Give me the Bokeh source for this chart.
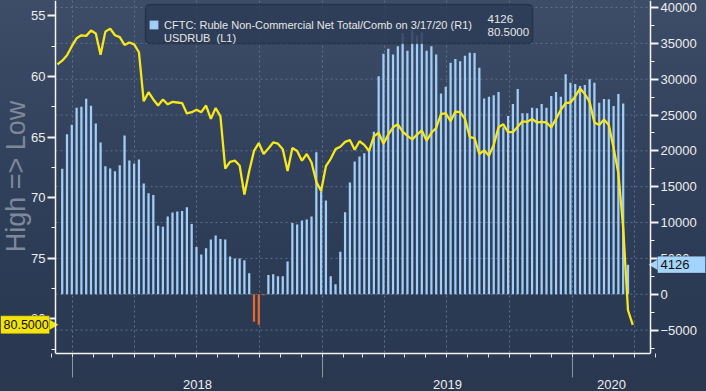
import math
import pandas as pd
from bokeh.plotting import figure
from bokeh.models import (Range1d, LinearAxis, FixedTicker,
                          Grid, Label, Legend, LegendItem, ColumnDataSource, InlineStyleSheet,
                          BoxAnnotation)
from bokeh.embed import file_html
from bokeh.resources import INLINE

# ---------------- data ----------------
cftc_start = "2017-12-17"          # weekly bars
cftc_net = [17500, 22300, 23650, 26000, 26150, 27250, 26300, 23800, 21150, 17850,
            17550, 17150, 18000, 22150, 18650, 18250, 18800, 15450, 14100, 13850,
            9550, 9400, 10850, 11400, 11550, 11600, 12150, 9800, 6600, 5550,
            6400, 7650, 8200, 7700, 7650, 5250, 5000, 5000, 4750, 2920,
            -3840, -4260, -150, 2680, 2780, 2500, 2500, 4580, 9950, 9720,
            10280, 10420, 10830, 19820, 14350, 13060, 2500, 1390, 5930, 11440,
            15600, 18500, 19200, 19650, 20100, 22650, 30400, 33550, 34250, 33450,
            34600, 36450, 33950, 36900, 36100, 36500, 33950, 34600, 33450, 28000,
            28950, 32300, 32800, 32500, 33250, 33700, 33650, 31600, 27300, 27550,
            27750, 28200, 23300, 24860, 26530, 28610, 25230, 25230, 26020, 25930,
            26530, 26010, 27640, 28200, 27550, 30700, 29490, 29310, 29030, 29170,
            30000, 29490, 26720, 27220, 27180, 26250, 27920, 26620, 4126]

usdrub_start = "2017-12-10"        # weekly line
usdrub = [59.0, 58.7, 58.25, 57.5, 56.85, 56.6, 56.65, 56.2, 56.45, 58.2,
          56.3, 56.05, 56.6, 56.75, 57.4, 57.2, 57.35, 58.0, 62.05, 61.3,
          61.9, 62.4, 61.9, 62.3, 62.1, 62.15, 62.2, 63.05, 62.95, 62.75,
          62.95, 62.4, 63.5, 62.6, 63.3, 67.6, 67.05, 66.95, 67.35, 69.75,
          67.8, 66.15, 65.5, 66.4, 65.95, 65.45, 65.55, 66.0, 67.8, 65.9,
          66.15, 66.95, 66.4, 67.1, 68.7, 69.45, 67.4, 66.8, 66.0, 65.8,
          65.4, 65.25, 66.05, 65.35, 65.65, 66.15, 64.95, 64.65, 65.55, 64.8,
          64.2, 63.95, 64.55, 64.9, 65.2, 64.8, 64.45, 65.3, 64.65, 64.25,
          63.1, 63.05, 63.7, 62.9, 62.95, 63.5, 65.0, 65.1, 66.4, 66.1,
          66.55, 65.65, 64.2, 63.95, 64.6, 64.6, 64.15, 63.7, 63.75, 63.5,
          63.8, 63.75, 63.8, 64.2, 63.5, 62.75, 62.2, 62.15, 61.65, 61.0,
          61.45, 62.1, 63.8, 64.0, 63.55, 64.0, 65.9, 68.0, 72.5, 79.3,
          80.5]

year_labels = ["2018", "2019", "2020"]
right_ticks = list(range(-5000, 40001, 5000))
left_ticks = [55, 60, 65, 70, 75, 80]
cftc_label = "CFTC: Ruble Non-Commercial Net Total/Comb on 3/17/20 (R1)"
usdrub_label = "USDRUB\u00a0 (L1)"
cftc_last = "4126"
usdrub_last = "80.5000"
left_axis_title = "High => Low"

# ---------------- layout constants ----------------
W, H = 706, 391
PL, PR = 55, 650                        # plot area left / right (canvas px)
FB = 36                                 # bottom border
FH = H - FB                             # frame height 355
px_per_day = 250.0 / 365.0
DAY = 86400000
x_plot_start = pd.Timestamp("2018-01-01") - pd.Timedelta(days=17 / px_per_day)
x_plot_end = x_plot_start + pd.Timedelta(days=(PR - PL) / px_per_day)
x_full_start = x_plot_start - pd.Timedelta(days=PL / px_per_day)
x_full_end = x_plot_end + pd.Timedelta(days=(W - PR) / px_per_day)
L_RANGE = (82.87, 53.73)
R_RANGE = (-8266, 40971)
L_PER_PX = (L_RANGE[0] - L_RANGE[1]) / FH
R_PER_PX = (R_RANGE[1] - R_RANGE[0]) / FH

def ms(t):
    return int(pd.Timestamp(t).value // 10**6)

def ms_at(px):
    return ms(x_full_start) + px / px_per_day * DAY

cftc_dates = pd.date_range(cftc_start, periods=len(cftc_net), freq="7D")
usdrub_dates = pd.date_range(usdrub_start, periods=len(usdrub), freq="7D")

BLUE = "#a0cef7"
ORANGE = "#e4682c"
YELLOW = "#f6e81c"
TAG_YELLOW = "#f3e30e"
TAG_BLUE = "#a4d3fb"
TXT = "#eeeeee"
AXC = "#f4f4f4"
GRID = "#61718c"
FONT = "Liberation Sans"

p = figure(width=W, height=H, x_axis_type=None, y_axis_type=None,
           x_range=Range1d(x_full_start, x_full_end),
           y_range=Range1d(*L_RANGE),
           output_backend="svg", toolbar_location=None,
           min_border_left=0, min_border_right=0, min_border_top=0, min_border_bottom=FB,
           background_fill_color=None, border_fill_color=None, outline_line_color=None)
p.extra_y_ranges = {"right": Range1d(*R_RANGE)}

p.stylesheets = [InlineStyleSheet(css=
    ":host { background: linear-gradient(to bottom, #3d4c67 0%, #34435e 30%, #2d3c56 65%, #29374f 100%); }")]

# grids
quarters = pd.date_range("2018-01-01", x_plot_end, freq="QS")
p.add_layout(Grid(dimension=0, ticker=FixedTicker(ticks=[ms(t) for t in quarters]),
                  grid_line_color=GRID, grid_line_dash="2 3", grid_line_width=1))
p.segment(x0=[x_plot_start] * len(right_ticks), x1=[x_plot_end] * len(right_ticks),
          y0=right_ticks, y1=right_ticks, y_range_name="right",
          line_color=GRID, line_dash="2 3", line_width=1)

# bars
src = ColumnDataSource(dict(x=cftc_dates, top=cftc_net,
                            color=[BLUE if v >= 0 else ORANGE for v in cftc_net]))
bars = p.vbar(x="x", top="top", bottom=0, width=3.3 * DAY, source=src,
              fill_color="color", line_color=None, y_range_name="right")
# line
line = p.line(x=usdrub_dates, y=usdrub, line_color=YELLOW, line_width=2.3)
dummy = p.vbar(x=[], top=[], width=1, fill_color=YELLOW, line_color=None)

def style_axis(ax):
    ax.axis_line_color = AXC
    ax.axis_line_width = 1.5
    ax.major_tick_line_color = AXC
    ax.major_tick_line_width = 2
    ax.major_tick_out = 8
    ax.major_tick_in = 0
    ax.minor_tick_line_color = AXC
    ax.minor_tick_out = 4
    ax.minor_tick_in = 0
    ax.major_label_text_color = TXT
    ax.major_label_text_font = FONT
    ax.major_label_text_font_size = "13px"
    ax.major_label_standoff = 2

# left axis (inverted), pinned at the plot's left edge
la = LinearAxis(ticker=FixedTicker(ticks=left_ticks,
                                   minor_ticks=[t + 2.5 for t in left_ticks]),
                fixed_location=ms(x_plot_start))
style_axis(la)
p.add_layout(la, "left")

# right axis, pinned at the plot's right edge
ra = LinearAxis(y_range_name="right",
                ticker=FixedTicker(ticks=right_ticks,
                                   minor_ticks=[t + 2500 for t in [right_ticks[0] - 5000] + right_ticks]),
                fixed_location=ms(x_plot_end))
style_axis(ra)
p.add_layout(ra, "right")

# left title
p.add_layout(Label(x=15, y=FH - 178, x_units="screen", y_units="screen", text=left_axis_title,
                   angle=math.pi / 2, text_align="center", text_baseline="middle",
                   text_color="#7f8899", text_font=FONT, text_font_size="27px"))

# last-value tags
yv = usdrub[-1]
p.add_layout(BoxAnnotation(left=0, right=49, left_units="screen", right_units="screen",
                           top=yv - 9 * L_PER_PX, bottom=yv + 9 * L_PER_PX,
                           fill_color=TAG_YELLOW, fill_alpha=1,
                           line_color="#3a3a10", line_width=1))
p.scatter(x=[ms_at(51.5)], y=[yv], marker="triangle", size=11, angle=-math.pi / 2,
          fill_color=TAG_YELLOW, line_color=None)
p.add_layout(Label(x=3, x_units="screen", y=yv, y_units="data", text=usdrub_last,
                   text_align="left", text_baseline="middle", text_color="#111111",
                   text_font=FONT, text_font_size="12.5px"))
cv = cftc_net[-1]
p.add_layout(BoxAnnotation(left=657, right=705, left_units="screen", right_units="screen",
                           top=cv + 8.5 * R_PER_PX, bottom=cv - 8.5 * R_PER_PX,
                           y_range_name="right",
                           fill_color=TAG_BLUE, fill_alpha=1,
                           line_color="#1d2a3c", line_width=1))
p.scatter(x=[ms_at(654.5)], y=[cv], y_range_name="right", marker="triangle",
          size=11, angle=math.pi / 2, fill_color=TAG_BLUE, line_color=None)
p.add_layout(Label(x=660, x_units="screen", y=cv, y_units="data",
                   y_range_name="right", text=cftc_last, text_align="left",
                   text_baseline="middle", text_color="#111111", text_font=FONT,
                   text_font_size="13px"))

# bottom axis: monthly ticks, no labels
months = pd.date_range("2017-12-01", "2020-05-01", freq="MS")
ba = LinearAxis(ticker=FixedTicker(ticks=[], minor_ticks=[ms(t) for t in months]),
                bounds=(ms(x_plot_start), ms(x_plot_end)))
ba.axis_line_color = AXC
ba.axis_line_width = 1.5
ba.major_tick_out = 16
ba.minor_tick_line_color = "#e0e0e0"
ba.minor_tick_out = 4
ba.minor_tick_in = 0
p.add_layout(ba, "below")

# year axis: labels centred on the visible part of each year, separators at year starts
year_starts = [pd.Timestamp(f"{y}-01-01") for y in year_labels]
mids = []
for y, t0 in zip(year_labels, year_starts):
    a = max(ms(t0), ms(x_plot_start))
    b = min(ms(pd.Timestamp(f"{int(y) + 1}-01-01")), ms(x_plot_end))
    mids.append((a + b) // 2)
ya = LinearAxis(ticker=FixedTicker(ticks=mids, minor_ticks=[ms(t) for t in year_starts]))
ya.major_label_overrides = {m: lab for m, lab in zip(mids, year_labels)}
ya.axis_line_color = None
ya.major_tick_out = 0
ya.major_tick_in = 0
ya.minor_tick_out = 20
ya.minor_tick_in = 0
ya.minor_tick_line_color = "#8d94a2"
ya.major_label_standoff = 2
ya.major_label_text_color = TXT
ya.major_label_text_font = FONT
ya.major_label_text_font_size = "13px"
p.add_layout(ya, "below")

# legend: box drawn as an annotation, items drawn by a transparent legend on top
p.add_layout(BoxAnnotation(left=145, right=532, top=FH - 6, bottom=FH - 45,
                           left_units="screen", right_units="screen",
                           top_units="screen", bottom_units="screen",
                           fill_color="#2d3c56", fill_alpha=0.85,
                           line_color="#0b0f17", line_width=1.5, border_radius=4))
legend = Legend(items=[LegendItem(label=cftc_label, renderers=[bars]),
                       LegendItem(label=usdrub_label, renderers=[dummy])],
                location=(148, 309), margin=0, padding=5, spacing=-3,
                glyph_width=11, glyph_height=11, label_height=13,
                label_standoff=5, label_text_font=FONT, label_text_font_size="11px",
                label_text_color="#e6e6e6", background_fill_alpha=0,
                border_line_color=None)
p.add_layout(legend)
for txt, yy in ((cftc_last, FH - 20), (usdrub_last, FH - 33)):
    p.add_layout(Label(x=487, y=yy, x_units="screen", y_units="screen", text=txt,
                       text_align="left", text_baseline="middle", text_color="#e6e6e6",
                       text_font=FONT, text_font_size="11.5px"))

open("out.html", "w").write(file_html(p, INLINE))
